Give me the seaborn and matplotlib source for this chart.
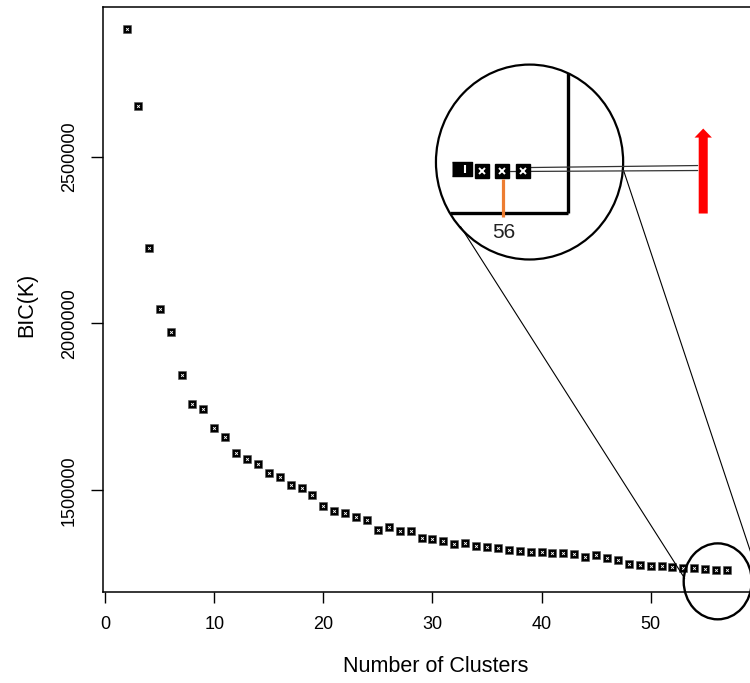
import numpy as np
import pandas as pd
import matplotlib
matplotlib.use("Agg")
import matplotlib.pyplot as plt
import seaborn as sns
from matplotlib.patches import Ellipse, FancyArrowPatch, ArrowStyle

# ---------------- data ----------------
clusters = list(range(2, 58))
bic = [2883000, 2650000, 2227500, 2042000, 1973000, 1847000, 1757500, 1742500,
       1685700, 1658700, 1610800, 1592800, 1577800, 1550900, 1538900, 1515000,
       1506000, 1485000, 1452100, 1437000, 1431000, 1419000, 1410000, 1380200,
       1389200, 1377200, 1377200, 1356300, 1353300, 1347300, 1338300, 1341300,
       1332300, 1329400, 1326400, 1320400, 1317400, 1314400, 1314400, 1311400,
       1311400, 1308400, 1299400, 1305400, 1296400, 1290400, 1278400, 1275400,
       1272400, 1272400, 1269400, 1266400, 1266400, 1263400, 1260500, 1260500]
x_ticks = [0, 10, 20, 30, 40, 50]
y_ticks = [1500000, 2000000, 2500000]
x_label = "Number of Clusters"
y_label = "BIC(K)"
zoom_clusters = [54, 55, 56, 57]
highlight_k = 56

df = pd.DataFrame({"k": clusters, "bic": bic})

sns.set_style("white")
plt.rcParams["font.family"] = ["Liberation Sans", "DejaVu Sans"]
plt.rcParams["text.color"] = "black"
plt.rcParams["axes.labelcolor"] = "black"
plt.rcParams["xtick.color"] = "black"
plt.rcParams["ytick.color"] = "black"

fig = plt.figure(figsize=(7.5, 6.83), dpi=100)
ax = fig.add_axes([103 / 750, 1 - 592 / 683, 648 / 750, (592 - 7) / 683])

sns.scatterplot(data=df, x="k", y="bic", marker="s", s=36, color="black",
                edgecolor="#555555", linewidth=0.4, ax=ax, zorder=3)
sns.scatterplot(data=df, x="k", y="bic", marker="x", s=4, color="white",
                linewidth=0.6, ax=ax, zorder=4)

ax.set_xlim(-0.2, 59.2)
ax.set_ylim(1195600, 2947900)
ax.set_xticks(x_ticks)
ax.set_yticks(y_ticks)
ax.set_yticklabels([str(v) for v in y_ticks], rotation=90, va="center")
ax.tick_params(axis="x", direction="out", length=8, width=1.0, labelsize=13,
               pad=9, bottom=True, colors="black")
ax.tick_params(axis="y", direction="out", length=9, width=1.0, labelsize=13,
               pad=9, left=True, colors="black")
for sp in ax.spines.values():
    sp.set_color("black")
    sp.set_linewidth(1.1)
ax.set_xlabel(x_label, fontsize=15.5, color="black")
ax.set_ylabel(y_label, fontsize=15.5, color="black")
ax.xaxis.set_label_coords((436 - 103) / 648, (592 - 656) / 585)
ax.yaxis.set_label_coords((37 - 103) / 648, (592 - 305) / 585)

# ---------------- magnifier decoration ----------------
big = Ellipse((38.90, 2483500), width=17.16, height=583800, fill=False,
              edgecolor="black", linewidth=1.6, zorder=5)
ax.add_patch(big)
small = Ellipse((56.15, 1227500), width=6.24, height=227500, fill=False,
                edgecolor="black", linewidth=1.7, zorder=5, clip_on=False)
ax.add_patch(small)

# L-shaped axes corner inside the magnifier
ax.plot([42.39, 42.39], [2751500, 2332300], color="black", lw=2.4,
        solid_capstyle="butt", zorder=5)
ax.plot([31.65, 42.39], [2332300, 2332300], color="black", lw=2.4,
        solid_capstyle="butt", zorder=5)

# connector lines between magnifier and the zoomed region
ax.plot([32.57, 53.12], [2290400, 1236500], color="black", lw=0.8,
        zorder=5, clip_on=False)
ax.plot([47.43, 59.36], [2467100, 1296400], color="black", lw=0.8,
        zorder=5, clip_on=False)

# guide lines to the arrow
ax.plot([38.81, 54.31], [2467000, 2473000], color="#333333", lw=0.9, zorder=5)
ax.plot([37.16, 54.31], [2455100, 2458100], color="#333333", lw=0.9, zorder=5)

# magnified points
zx0, zstep = 32.75, 1.835
zx = [zx0 + i * zstep for i in range(len(zoom_clusters))]
zy = [2464100, 2458100, 2458100, 2458100]
rect = [(-1.5, -1), (1.5, -1), (1.5, 1), (-1.5, 1)]
ax.plot(zx[0], zy[0], marker=rect, markersize=15, color="black", zorder=6)
ax.plot(zx[0] + 0.25, zy[0], marker="|", markersize=6, mew=1.5, color="white", zorder=7)
ax.plot(zx[1:], zy[1:], ls="none", marker="s", markersize=9.5, color="black", zorder=6)
ax.plot(zx[1:], zy[1:], ls="none", marker="x", markersize=4.5, mew=1.4, color="white", zorder=7)

hx = zx[zoom_clusters.index(highlight_k)] + 0.09
ax.plot([hx, hx], [2434100, 2317400], color="#ED7D31", lw=2.3,
        solid_capstyle="butt", zorder=6)
ax.text(hx, 2272500, str(highlight_k), ha="center", va="center", fontsize=15,
        color="#222222", zorder=6)

arrow = FancyArrowPatch((54.82, 2329300), (54.82, 2583800),
                        arrowstyle=ArrowStyle.Simple(head_length=6.5, head_width=12.5,
                                                     tail_width=6.5),
                        mutation_scale=1, color="#FF0000", linewidth=0,
                        shrinkA=0, shrinkB=0, zorder=6)
ax.add_patch(arrow)

fig.savefig("out.png", dpi=100)
